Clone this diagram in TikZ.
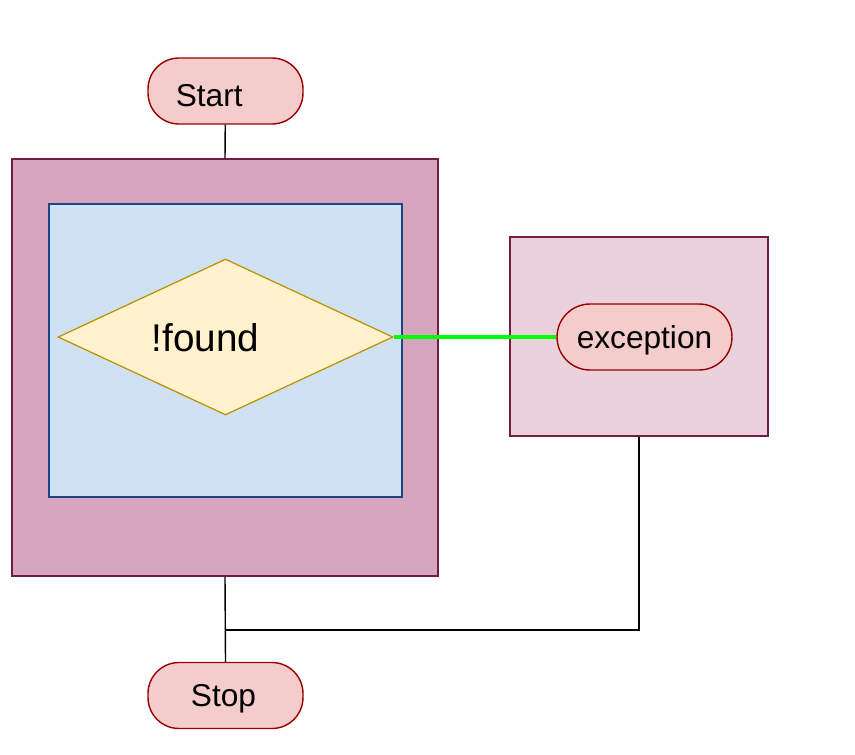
\documentclass[tikz,border=0pt]{standalone}
\usepackage{fontspec}
\setmainfont{Liberation Sans}
\usepackage{tikz}
\usetikzlibrary{shapes.geometric}

\definecolor{termfill}{HTML}{F4CCCC}
\definecolor{termline}{HTML}{990000}
\definecolor{tryfill}{HTML}{D5A6BD}
\definecolor{tryline}{HTML}{741B47}
\definecolor{loopfill}{HTML}{CFE2F3}
\definecolor{loopline}{HTML}{1C4587}
\definecolor{testfill}{HTML}{FFF2CC}
\definecolor{testline}{HTML}{BF9000}
\definecolor{catchfill}{HTML}{EAD1DC}

% baseline set below the centre of a node
\newcommand{\lowtext}[2]{\smash{\raisebox{-#1}{#2}}}

\begin{document}
\begin{tikzpicture}[x=0.02cm, y=-0.02cm,
  terminal/.style={draw=termline, fill=termfill, line width=0.8pt, rounded corners=0.62cm, minimum width=3.1cm, minimum height=1.32cm, inner sep=0pt, font=\fontsize{18}{21}\selectfont},
  block/.style={rectangle, line width=0.7pt, inner sep=0pt},
  wire/.style={black, line width=0.8pt}]
\useasboundingbox (0,0) rectangle (855,754);
\node[block, draw=tryline, fill=tryfill, minimum width=8.52cm, minimum height=8.34cm] (try) at (225,367.5) {};
\node[block, draw=loopline, fill=loopfill, minimum width=7.06cm, minimum height=5.86cm] (loop) at (225.5,350.5) {};
\node[diamond, draw=testline, fill=testfill, line width=0.7pt, minimum width=6.7cm, minimum height=3.12cm, inner sep=0pt] (test) at (225.5,337) {};
\node[font=\fontsize{22}{25}\selectfont, anchor=base, inner sep=0pt] (testtext) at (205.5,351.5) {!found};
\node[block, draw=tryline, fill=catchfill, minimum width=5.16cm, minimum height=3.98cm] (catch) at (639,336.5) {};
\node[terminal, minimum width=3.5cm, rounded corners=0.66cm] (exception) at (644.5,337) {\lowtext{0.23cm}{exception}};
\node[terminal] (start) at (225.5,91) {\hspace*{-0.65cm}\lowtext{0.31cm}{Start}};
\node[terminal] (stop) at (225.5,695.5) {\hspace*{-0.08cm}\lowtext{0.21cm}{Stop}};
\coordinate (joint) at (225.5,630);
\draw[wire] (start) -- (try.north);
\draw[wire] (try.south) -- (stop.north);
\draw[wire] (catch.south) -- (catch.south |- joint) -- (joint);
\draw[green, line width=1.8pt] (test.east) -- (exception.west);
\end{tikzpicture}
\end{document}
